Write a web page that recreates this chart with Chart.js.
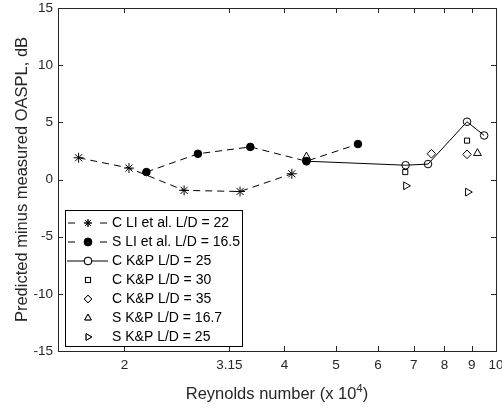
<!DOCTYPE html>
<html>
<head>
<meta charset="utf-8">
<script src="https://cdn.jsdelivr.net/npm/chart.js@4.4.1/dist/chart.umd.min.js"></script>
<style>
  html, body { margin: 0; background: #fff; }
</style>
</head>
<body>
<canvas id="chart" width="502" height="410"></canvas>
<script>
// Reynolds number (x 10^4) and predicted-minus-measured OASPL (dB)
const reLiC = [1.64, 2.04, 2.59, 3.30, 4.13];
const dbLiC = [1.9, 1.0, -0.95, -1.05, 0.5];
const reLiS = [2.20, 2.75, 3.45, 4.40, 5.50];
const dbLiS = [0.65, 2.25, 2.85, 1.6, 3.1];
const reKp25 = [4.40, 6.76, 7.45, 8.82, 9.50];
const dbKp25 = [1.6, 1.25, 1.35, 5.05, 3.85];
const reKp30 = [6.75, 8.82];
const dbKp30 = [0.65, 3.4];
const reKp35 = [7.56, 8.82];
const dbKp35 = [2.25, 2.2];
const reSKp167 = [4.40, 9.23];
const dbSKp167 = [2.0, 2.3];
const reSKp25 = [6.77, 8.85];
const dbSKp25 = [-0.55, -1.1];

const xTicks = [2, 3.15, 4, 5, 6, 7, 8, 9, 10];
const yTicks = [-15, -10, -5, 0, 5, 10, 15];

const axisColor = "#262626";
const FONT = "'Liberation Sans', Arial, sans-serif";

const pts = (xs, ys) => xs.map((x, i) => ({ x, y: ys[i] }));

function series(label, xs, ys, style) {
  return Object.assign({
    label,
    data: pts(xs, ys),
    showLine: false,
    borderColor: "#000",
    borderWidth: 1,
    pointBorderColor: "#000",
    pointBackgroundColor: "rgba(0,0,0,0)",
    pointBorderWidth: 1,
    pointRadius: 4,
    pointHoverRadius: 4,
  }, style);
}

const datasets = [
  series("C LI et al. L/D = 22", reLiC, dbLiC,
    { showLine: true, borderDash: [7, 5], pointStyle: "star", pointRadius: 5, dash: true }),
  series("S LI et al. L/D = 16.5", reLiS, dbLiS,
    { showLine: true, borderDash: [7, 5], pointStyle: "circle", pointRadius: 3.8,
      pointBackgroundColor: "#000", dash: true }),
  series("C K&P L/D = 25", reKp25, dbKp25,
    { showLine: true, pointStyle: "circle", pointRadius: 3.8 }),
  series("C K&P L/D = 30", reKp30, dbKp30, { pointStyle: "rect", pointRadius: 3.6 }),
  series("C K&P L/D = 35", reKp35, dbKp35, { pointStyle: "rectRot", pointRadius: 4.3 }),
  series("S K&P L/D = 16.7", reSKp167, dbSKp167, { pointStyle: "triangle", pointRadius: 4.5 }),
  series("S K&P L/D = 25", reSKp25, dbSKp25,
    { pointStyle: "triangle", pointRadius: 4.5, pointRotation: 90 }),
];

// box, inward ticks, axis titles and the legend, drawn by hand
const frame = {
  id: "frame",
  afterDraw(chart) {
    const { ctx, chartArea: a, scales } = chart;
    const x = scales.x, y = scales.y;
    ctx.save();
    ctx.strokeStyle = axisColor;
    ctx.lineWidth = 1;
    ctx.strokeRect(Math.round(a.left) + 0.5, Math.round(a.top) + 0.5,
      Math.round(a.right - a.left), Math.round(a.bottom - a.top));
    ctx.beginPath();
    xTicks.forEach(v => {
      const px = Math.round(x.getPixelForValue(v)) + 0.5;
      ctx.moveTo(px, a.bottom); ctx.lineTo(px, a.bottom - 5);
      ctx.moveTo(px, a.top); ctx.lineTo(px, a.top + 5);
    });
    yTicks.forEach(v => {
      const py = Math.round(y.getPixelForValue(v)) + 0.5;
      ctx.moveTo(a.left, py); ctx.lineTo(a.left + 5, py);
      ctx.moveTo(a.right, py); ctx.lineTo(a.right - 5, py);
    });
    ctx.stroke();

    // axis titles
    ctx.fillStyle = axisColor;
    ctx.font = "16.5px " + FONT;
    ctx.textBaseline = "alphabetic";
    const main = "Reynolds number (x 10";
    const sup = "4";
    const tail = ")";
    const wMain = ctx.measureText(main).width;
    const wTail = ctx.measureText(tail).width;
    ctx.font = "11.5px " + FONT;
    const wSup = ctx.measureText(sup).width;
    let tx = (a.left + a.right) / 2 - (wMain + wSup + wTail) / 2;
    const ty = 399;
    ctx.font = "16.5px " + FONT;
    ctx.textAlign = "left";
    ctx.fillText(main, tx, ty);
    ctx.font = "11.5px " + FONT;
    ctx.fillText(sup, tx + wMain, ty - 7);
    ctx.font = "16.5px " + FONT;
    ctx.fillText(tail, tx + wMain + wSup, ty);

    ctx.save();
    ctx.translate(27, (a.top + a.bottom) / 2);
    ctx.rotate(-Math.PI / 2);
    ctx.textAlign = "center";
    ctx.fillText("Predicted minus measured OASPL, dB", 0, 0);
    ctx.restore();

    // legend
    const lx = 65.5, ly = 210.5, lw = 177, lh = 136;
    ctx.fillStyle = "#fff";
    ctx.fillRect(lx, ly, lw, lh);
    ctx.strokeStyle = "#000";
    ctx.strokeRect(lx, ly, lw, lh);
    ctx.font = "14px " + FONT;
    ctx.textAlign = "left";
    ctx.textBaseline = "middle";
    datasets.forEach((ds, i) => {
      const ry = 223 + i * 19;
      const mx = 88;
      ctx.strokeStyle = "#000";
      ctx.lineWidth = 1;
      if (ds.showLine) {
        ctx.beginPath();
        if (ds.dash) {
          ctx.moveTo(68, ry); ctx.lineTo(75, ry);
          ctx.moveTo(100, ry); ctx.lineTo(107, ry);
        } else {
          ctx.moveTo(67, ry); ctx.lineTo(108, ry);
        }
        ctx.stroke();
      }
      Chart.helpers.drawPoint(ctx, {
        pointStyle: ds.pointStyle,
        radius: Math.min(ds.pointRadius, 3.8),
        rotation: ds.pointRotation || 0,
        borderWidth: 1,
      }, mx, ry);
      ctx.fillStyle = ds.pointBackgroundColor === "#000" ? "#000" : "#fff";
      ctx.strokeStyle = "#000";
      ctx.fill();
      ctx.stroke();
      ctx.fillStyle = "#000";
      ctx.fillText(ds.label, 112, ry + 0.5);
    });
    ctx.restore();
  },
};

new Chart(document.getElementById("chart"), {
  type: "scatter",
  data: { datasets },
  options: {
    responsive: false,
    devicePixelRatio: 1,
    animation: false,
    layout: { padding: { top: 8, right: 6, left: 0, bottom: 0 } },
    plugins: { legend: { display: false }, tooltip: { enabled: false } },
    scales: {
      x: {
        type: "logarithmic",
        min: 1.5,
        max: 10,
        afterBuildTicks: s => { s.ticks = xTicks.map(v => ({ value: v })); },
        afterFit: s => { s.height = 59; s.paddingLeft = 0; s.paddingRight = 0; },
        grid: { display: false, drawTicks: false },
        border: { display: false },
        ticks: {
          autoSkip: false,
          maxRotation: 0,
          padding: 6,
          color: axisColor,
          font: { family: FONT, size: 13.5 },
          callback: v => String(v),
        },
      },
      y: {
        min: -15,
        max: 15,
        afterBuildTicks: s => { s.ticks = yTicks.map(v => ({ value: v })); },
        afterFit: s => { s.width = 58; s.paddingTop = 0; s.paddingBottom = 0; },
        grid: { display: false, drawTicks: false },
        border: { display: false },
        ticks: {
          padding: 5,
          color: axisColor,
          font: { family: FONT, size: 13.5 },
        },
      },
    },
  },
  plugins: [frame],
});
</script>
</body>
</html>
